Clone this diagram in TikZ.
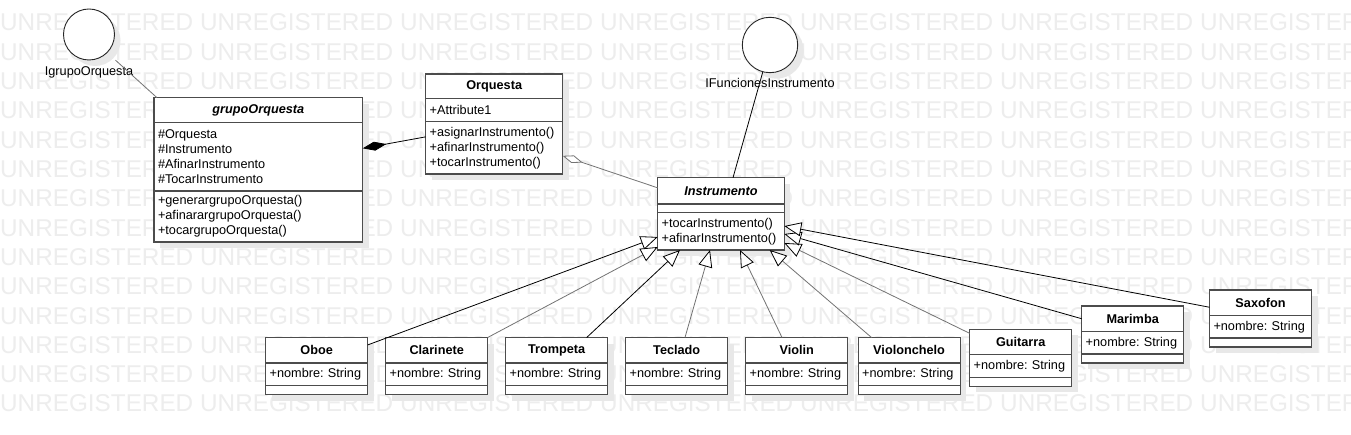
\documentclass[tikz,border=0pt]{standalone}
\usepackage{fontspec}
\setmainfont{Liberation Sans}
\usetikzlibrary{positioning,arrows.meta,shadows}
\frenchspacing

\begin{document}
\begin{tikzpicture}
  [x=1pt,y=-1pt,
  font=\fontsize{12.7}{15}\selectfont,
  umlshadow/.style={drop shadow={shadow xshift=6pt,shadow yshift=-6pt,fill=black!9,opacity=1}},
  box/.style={draw=black!70,line width=1.1pt,fill=white,inner xsep=4pt,inner ysep=0pt,outer sep=0pt,umlshadow},
  head/.style={box,text width=#1,align=center,minimum height=25.5pt,font=\fontsize{12.7}{15}\selectfont\bfseries},
  head/.default=94pt,
  attr/.style={box,text width=#1,align=left,minimum height=22.5pt},
  attr/.default=94pt,
  oper/.style={box,text width=#1,align=left,minimum height=9pt},
  oper/.default=94pt,
  iface/.style={circle,draw=black!85,line width=0.9pt,fill=white,inner sep=0pt,umlshadow},
  wm/.style={anchor=base west,inner sep=0pt,text=black!7,font=\fontsize{24.3}{24}\selectfont},
  link/.style={line width=0.8pt,draw=black},
  lite/.style={draw=black!55},
  gen/.style={link,-{Triangle[open,fill=white,color=black,length=17pt,width=14pt]}},
  comp/.style={link,-{Diamond[length=24pt,width=9pt]}},
  aggr/.style={link,lite,-{Diamond[open,fill=white,length=21pt,width=8pt]}}]
  \path[fill=white,use as bounding box] (0,0) rectangle (1351,435);

  % watermark
  \foreach \r in {0,...,13}
    \foreach \c in {0,...,6}
      \node[wm] (wm-\r-\c) at (200*\c,31+29.3*\r) {UNREGISTERED};

  % interfaces
  \node[iface,minimum size=51pt] (igo) at (89,34.5) {};
  \node[below=3pt of igo] (igo-txt) {IgrupoOrquesta};
  \node[iface,minimum size=55.4pt] (ifi) at (770,45) {};
  \node[below=2pt of ifi] (ifi-txt) {IFuncionesInstrumento};

  % grupoOrquesta
  \node[head=200.7pt,minimum height=25pt,anchor=north west,font=\fontsize{12.7}{15}\selectfont\bfseries\itshape] (grupo) at (154,97.7) {grupoOrquesta};
  \node[attr=200.7pt,minimum height=68.3pt,below=0pt of grupo] (grupo-at) {\#Orquesta\\\#Instrumento\\\#AfinarInstrumento\\\#TocarInstrumento};
  \node[oper=200.7pt,minimum height=51pt,below=0pt of grupo-at] (grupo-op) {+generargrupoOrquesta()\\+afinarargrupoOrquesta()\\+tocargrupoOrquesta()};

  % Orquesta
  \node[head=129pt,minimum height=24.3pt,anchor=north west] (orq) at (425.7,74) {Orquesta};
  \node[attr=129pt,minimum height=23.4pt,below=0pt of orq] (orq-at) {+Attribute1};
  \node[oper=129pt,minimum height=52.3pt,below=0pt of orq-at] (orq-op) {+asignarInstrumento()\\+afinarInstrumento()\\+tocarInstrumento()};

  % Instrumento
  \node[head=118.6pt,minimum height=26.3pt,anchor=north west,font=\fontsize{12.7}{15}\selectfont\bfseries\itshape] (inst) at (657.7,177.7) {Instrumento};
  \node[attr=118.6pt,minimum height=8.7pt,below=0pt of inst] (inst-at) {};
  \node[oper=118.6pt,minimum height=37.3pt,below=0pt of inst-at] (inst-op) {+tocarInstrumento()\\+afinarInstrumento()};

  % instruments
  \node[head,anchor=north west] (oboe) at (265.7,337.5) {Oboe};
  \node[attr,below=0pt of oboe] (oboe-at) {+nombre: String};
  \node[oper,below=0pt of oboe-at] (oboe-op) {};

  \node[head,right=18pt of oboe] (clar) {Clarinete};
  \node[attr,below=0pt of clar] (clar-at) {+nombre: String};
  \node[oper,below=0pt of clar-at] (clar-op) {};

  \node[head,right=18pt of clar] (trom) {Trompeta};
  \node[attr,below=0pt of trom] (trom-at) {+nombre: String};
  \node[oper,below=0pt of trom-at] (trom-op) {};

  \node[head,right=18pt of trom] (tecl) {Teclado};
  \node[attr,below=0pt of tecl] (tecl-at) {+nombre: String};
  \node[oper,below=0pt of tecl-at] (tecl-op) {};

  \node[head,right=18pt of tecl] (viol) {Violin};
  \node[attr,below=0pt of viol] (viol-at) {+nombre: String};
  \node[oper,below=0pt of viol-at] (viol-op) {};

  \node[head,right=10.4pt of viol] (vchel) {Violonchelo};
  \node[attr,below=0pt of vchel] (vchel-at) {+nombre: String};
  \node[oper,below=0pt of vchel-at] (vchel-op) {};

  \node[head,anchor=north west] (guit) at (969.7,329.3) {Guitarra};
  \node[attr,below=0pt of guit] (guit-at) {+nombre: String};
  \node[oper,below=0pt of guit-at] (guit-op) {};

  \node[head,anchor=north west] (mari) at (1081.7,306) {Marimba};
  \node[attr,below=0pt of mari] (mari-at) {+nombre: String};
  \node[oper,below=0pt of mari-at] (mari-op) {};

  \node[head,anchor=north west] (saxo) at (1209.5,290) {Saxofon};
  \node[attr,below=0pt of saxo] (saxo-at) {+nombre: String};
  \node[oper,below=0pt of saxo-at] (saxo-op) {};

  % links
  \draw[link,lite,shorten <=11pt] (igo.-45) -- ([xshift=3pt]grupo.north west);
  \draw[link] (ifi.255) -- ([xshift=12pt]inst.north);
  \draw[comp] ([yshift=11pt]orq-op.west) -- ([yshift=8.5pt]grupo-at.east);
  \draw[aggr] ([yshift=3pt]inst.west) -- ([yshift=-8pt]orq-op.east);

  \draw[gen] ([yshift=5.3pt]oboe.east) -- ([yshift=-5.6pt]inst-op.west);
  \draw[gen,lite] (clar.north east) -- ([yshift=3pt]inst-op.south west);
  \draw[gen] ([xshift=-21pt]trom.north east) -- ([xshift=22.3pt]inst-op.south west);
  \draw[gen,lite] ([xshift=8.3pt]tecl.north) -- ([xshift=52.3pt]inst-op.south west);
  \draw[gen,lite] ([xshift=-14.7pt]viol.north) -- ([xshift=82.3pt]inst-op.south west);
  \draw[gen,lite] ([xshift=13.4pt]vchel.north west) -- ([xshift=112pt]inst-op.south west);
  \draw[gen,lite] ([yshift=8.7pt]guit.west) -- ([yshift=-11.6pt]inst-op.east);
  \draw[gen] (mari.west) -- ([yshift=-2.6pt]inst-op.east);
  \draw[gen] ([yshift=-4.5pt]saxo.west) -- ([yshift=5.3pt]inst-op.east);
\end{tikzpicture}
\end{document}
